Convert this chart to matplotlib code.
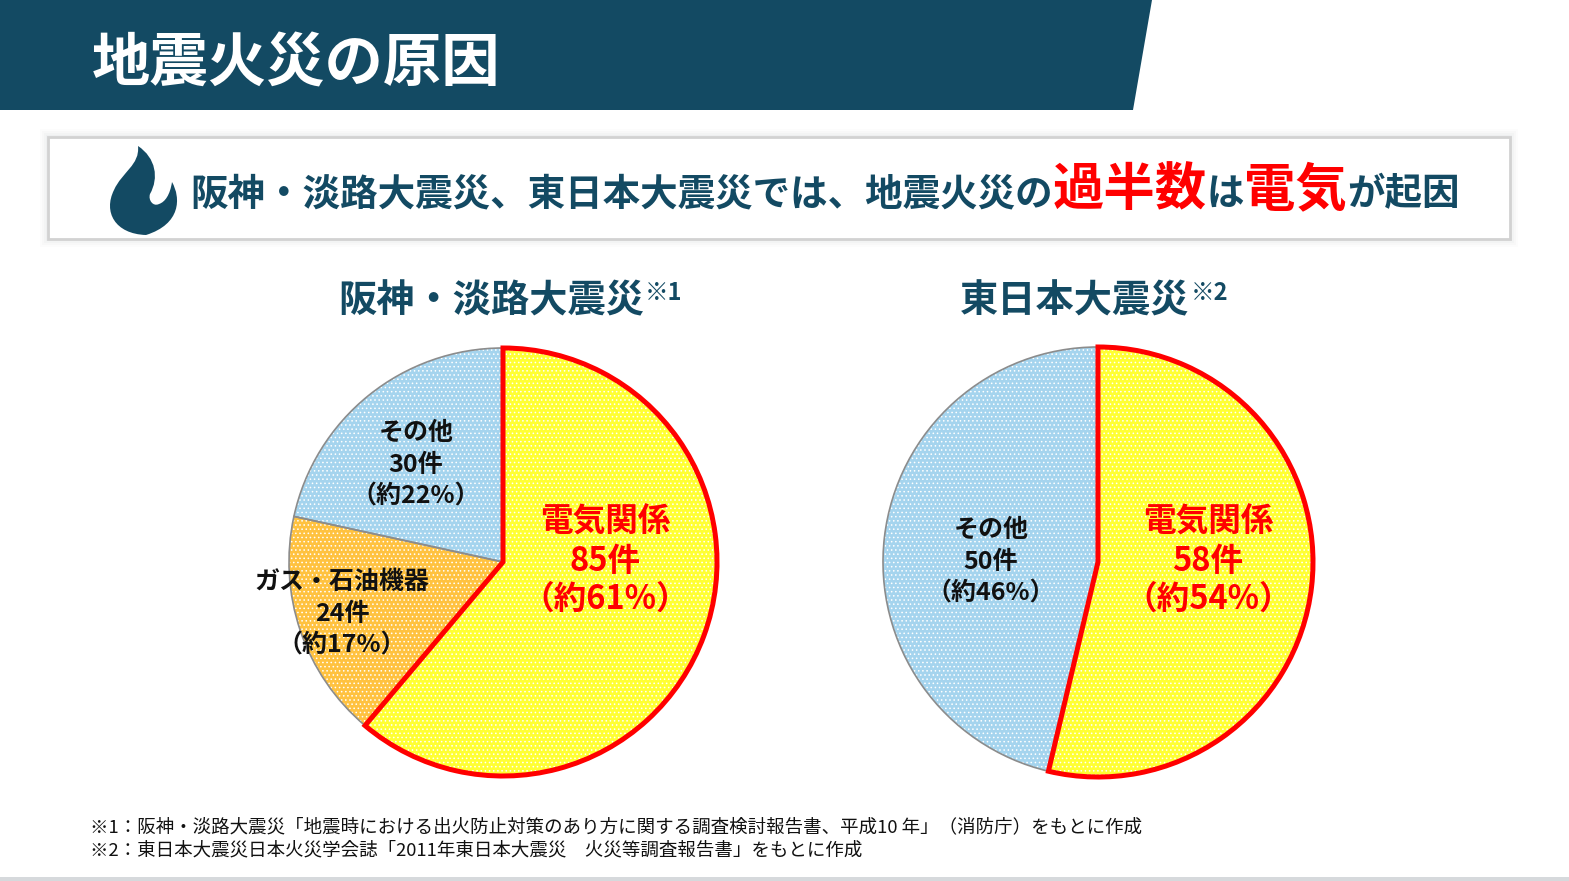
import matplotlib
matplotlib.use("Agg")
import matplotlib.pyplot as plt
from matplotlib.patches import Polygon, Rectangle, PathPatch
from matplotlib.path import Path

plt.rcParams['font.family'] = ['Noto Sans CJK JP', 'DejaVu Sans']
plt.rcParams['hatch.linewidth'] = 0.6

NAVY = "#134a63"
RED = "#ff0000"

# data
title = "地震火災の原因"
headline = [("阪神・淡路大震災、東日本大震災では、地震火災の", NAVY, 27),
            ("過半数", RED, 37), ("は", NAVY, 27), ("電気", RED, 37), ("が起因", NAVY, 27)]

hanshin_labels = ["電気関係", "ガス・石油機器", "その他"]
hanshin_counts = [85, 24, 30]
hanshin_pct = [61, 17, 22]
hanshin_colors = ["#ffff33", "#ffc240", "#a5d4ee"]

tohoku_labels = ["電気関係", "その他"]
tohoku_counts = [58, 50]
tohoku_pct = [54, 46]
tohoku_colors = ["#ffff33", "#a5d4ee"]

notes = ["※1：阪神・淡路大震災「地震時における出火防止対策のあり方に関する調査検討報告書、平成10 年」（消防庁）をもとに作成",
         "※2：東日本大震災日本火災学会誌「2011年東日本大震災　火災等調査報告書」をもとに作成"]

W, H = 1569, 881
fig = plt.figure(figsize=(W / 100, H / 100), dpi=100)
bg = fig.add_axes([0, 0, 1, 1])
bg.set_xlim(0, W)
bg.set_ylim(H, 0)
bg.axis("off")

# header band
bg.add_patch(Polygon([(0, 0), (1152, 0), (1133, 110), (0, 110)], closed=True, color=NAVY, lw=0))
bg.text(92, 82, title, color="white", fontsize=42, fontweight="bold", va="baseline")

# headline box with soft shadow
for i, a in enumerate([0.025, 0.03, 0.035, 0.04]):
    g = 8 - 2 * i
    bg.add_patch(Rectangle((48 - g, 137 - g), 1462 + 2 * g, 102 + 2 * g, fc="#808890", ec="none", alpha=a))
bg.add_patch(Rectangle((48, 137), 1462, 102, fc="white", ec="#d2d2d2", lw=2))

# flame icon
verts = [(138, 146),
         (156, 158), (159, 178), (150, 194),
         (148, 200), (153, 207), (159, 204),
         (165, 202), (170, 195), (172, 182),
         (181, 198), (181, 224), (146, 235),
         (115, 234), (103, 212), (114, 190),
         (122, 172), (140, 165), (138, 146)]
codes = [Path.MOVETO] + [Path.CURVE4] * 18
bg.add_patch(PathPatch(Path(verts, codes), fc=NAVY, ec="none"))

fig.canvas.draw()
renderer = fig.canvas.get_renderer()
x = 190
for txt, col, fs in headline:
    t = bg.text(x, 205, txt, color=col, fontsize=fs, fontweight="bold", va="baseline")
    bb = t.get_window_extent(renderer)
    x += bb.width

# subtitles
for x0, name, mark in [(338, "阪神・淡路大震災", "※1"), (960, "東日本大震災", "※2")]:
    t = bg.text(x0, 312, name, color=NAVY, fontsize=27.5, fontweight="bold", va="baseline")
    bb = t.get_window_extent(renderer)
    bg.text(x0 + bb.width + 1, 300, mark, color=NAVY, fontsize=17, fontweight="bold", va="baseline")


def draw_pie(cx, cy, r, counts, colors, label_pos, labels, pct):
    half = 232
    ax = fig.add_axes([(cx - half) / W, (H - cy - half) / H, 2 * half / W, 2 * half / H])
    lim = half / r
    # textured fill
    wedges, _ = ax.pie(counts, colors=colors, startangle=90, counterclock=False,
                       wedgeprops=dict(linewidth=0, edgecolor="white", hatch="...."))
    # outlines
    outl, _ = ax.pie(counts, colors=["none"] * len(counts), startangle=90, counterclock=False,
                     wedgeprops=dict(linewidth=1.2, edgecolor="#8c8c8c", fill=False))
    outl[0].set_edgecolor(RED)
    outl[0].set_linewidth(3.6)
    outl[0].set_zorder(5)
    ax.set_xlim(-lim, lim)
    ax.set_ylim(-lim, lim)
    ax.set_aspect("equal")
    ax.axis("off")
    for i, (lx, ly) in enumerate(label_pos):
        s = f"{labels[i]}\n{counts[i]}件\n（約{pct[i]}%）"
        if i == 0:
            bg.text(lx, ly, s, color=RED, fontsize=23.5, fontweight="bold", ha="center", va="center",
                    linespacing=1.22, zorder=10)
        else:
            bg.text(lx, ly, s, color="#111111", fontsize=18, fontweight="bold", ha="center", va="center",
                    linespacing=1.42, zorder=10)


draw_pie(503, 562, 214, hanshin_counts, hanshin_colors,
         [(605, 561), (342, 614), (416, 465)], hanshin_labels, hanshin_pct)
draw_pie(1098, 562, 215, tohoku_counts, tohoku_colors,
         [(1208, 561), (991, 562)], tohoku_labels, tohoku_pct)
bg.set_zorder(3)
bg.patch.set_alpha(0)

# footnotes
bg.text(90, 832, notes[0], fontsize=13.3, color="#111111", va="baseline")
bg.text(90, 855, notes[1], fontsize=13.3, color="#111111", va="baseline")
bg.add_patch(Rectangle((0, 877), W, 4, fc="#d6d9dc", ec="none"))

fig.savefig("out.png", dpi=100)
